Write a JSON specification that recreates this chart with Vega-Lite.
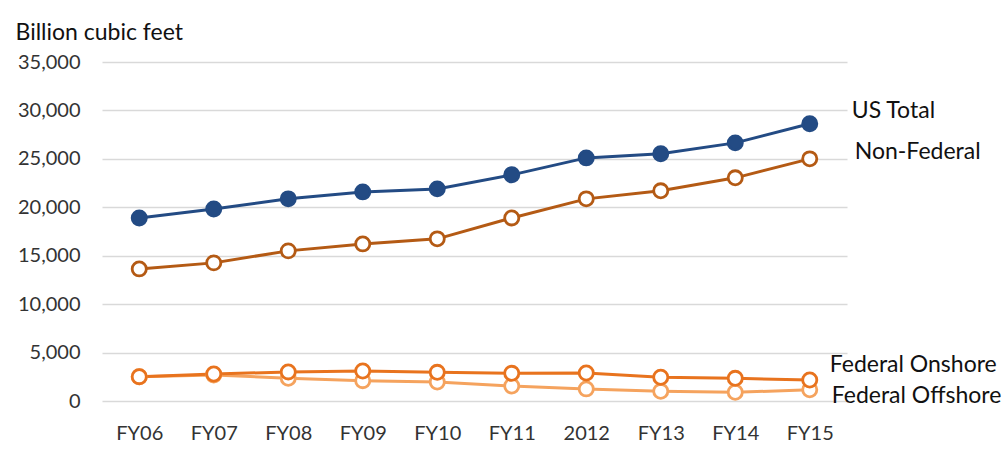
{
  "$schema": "https://vega.github.io/schema/vega-lite/v6.json",
  "width": 745,
  "height": 339,
  "autosize": "none",
  "padding": {"left": 102, "top": 62, "right": 160, "bottom": 49},
  "background": "white",
  "config": {"view": {"stroke": null}, "font": "Lato"},
  "data": {"values": [
    {"year": "FY06", "series": "Federal Offshore", "value": 2500},
    {"year": "FY07", "series": "Federal Offshore", "value": 2690},
    {"year": "FY08", "series": "Federal Offshore", "value": 2350},
    {"year": "FY09", "series": "Federal Offshore", "value": 2100},
    {"year": "FY10", "series": "Federal Offshore", "value": 1950},
    {"year": "FY11", "series": "Federal Offshore", "value": 1550},
    {"year": "2012", "series": "Federal Offshore", "value": 1250},
    {"year": "FY13", "series": "Federal Offshore", "value": 1000},
    {"year": "FY14", "series": "Federal Offshore", "value": 900},
    {"year": "FY15", "series": "Federal Offshore", "value": 1150},
    {"year": "FY06", "series": "Federal Onshore", "value": 2510},
    {"year": "FY07", "series": "Federal Onshore", "value": 2790},
    {"year": "FY08", "series": "Federal Onshore", "value": 3000},
    {"year": "FY09", "series": "Federal Onshore", "value": 3100},
    {"year": "FY10", "series": "Federal Onshore", "value": 2960},
    {"year": "FY11", "series": "Federal Onshore", "value": 2860},
    {"year": "2012", "series": "Federal Onshore", "value": 2890},
    {"year": "FY13", "series": "Federal Onshore", "value": 2450},
    {"year": "FY14", "series": "Federal Onshore", "value": 2340},
    {"year": "FY15", "series": "Federal Onshore", "value": 2170},
    {"year": "FY06", "series": "Non-Federal", "value": 13640},
    {"year": "FY07", "series": "Non-Federal", "value": 14260},
    {"year": "FY08", "series": "Non-Federal", "value": 15500},
    {"year": "FY09", "series": "Non-Federal", "value": 16220},
    {"year": "FY10", "series": "Non-Federal", "value": 16740},
    {"year": "FY11", "series": "Non-Federal", "value": 18900},
    {"year": "2012", "series": "Non-Federal", "value": 20870},
    {"year": "FY13", "series": "Non-Federal", "value": 21700},
    {"year": "FY14", "series": "Non-Federal", "value": 23040},
    {"year": "FY15", "series": "Non-Federal", "value": 25000},
    {"year": "FY06", "series": "US Total", "value": 18900},
    {"year": "FY07", "series": "US Total", "value": 19830},
    {"year": "FY08", "series": "US Total", "value": 20870},
    {"year": "FY09", "series": "US Total", "value": 21590},
    {"year": "FY10", "series": "US Total", "value": 21900},
    {"year": "FY11", "series": "US Total", "value": 23350},
    {"year": "2012", "series": "US Total", "value": 25100},
    {"year": "FY13", "series": "US Total", "value": 25520},
    {"year": "FY14", "series": "US Total", "value": 26650},
    {"year": "FY15", "series": "US Total", "value": 28620}
  ]},
  "encoding": {
    "x": {
      "field": "year", "type": "nominal", "sort": null,
      "scale": {"type": "point", "padding": 0.5},
      "axis": {"title": null, "labelAngle": 0, "ticks": false, "domain": false, "labelFont": "Lato", "labelFontSize": 20, "labelColor": "#333333", "labelPadding": 22, "grid": false}
    },
    "y": {
      "field": "value", "type": "quantitative",
      "scale": {"domain": [0, 35000], "nice": false},
      "axis": {
        "values": [0, 5000, 10000, 15000, 20000, 25000, 30000, 35000],
        "format": ",d", "ticks": false, "domain": false,
        "gridColor": "#d9d9d9", "gridWidth": 1.5,
        "labelFont": "Lato", "labelFontSize": 20, "labelColor": "#333333", "labelPadding": 22,
        "title": "Billion cubic feet", "titleAngle": 0, "titleAlign": "left", "titleBaseline": "alphabetic",
        "titleX": -87, "titleY": -23, "titleFont": "Lato", "titleFontSize": 23, "titleFontWeight": "normal", "titleColor": "#111111"
      }
    }
  },
  "layer": [
    {
      "mark": {"type": "line", "strokeWidth": 3},
      "encoding": {
        "stroke": {"field": "series", "type": "nominal", "legend": null, "sort": ["Federal Offshore", "Federal Onshore", "Non-Federal", "US Total"],
          "scale": {"domain": ["Federal Offshore", "Federal Onshore", "Non-Federal", "US Total"], "range": ["#F5A35E", "#E8731E", "#B45A14", "#234B84"]}}
      }
    },
    {
      "mark": {"type": "point", "filled": true, "size": 200, "strokeWidth": 2.8, "shape": "circle", "opacity": 1},
      "encoding": {
        "stroke": {"field": "series", "type": "nominal", "legend": null,
          "scale": {"domain": ["Federal Offshore", "Federal Onshore", "Non-Federal", "US Total"], "range": ["#F5A35E", "#E8731E", "#B45A14", "#234B84"]}},
        "fill": {"field": "series", "type": "nominal", "legend": null,
          "scale": {"domain": ["Federal Offshore", "Federal Onshore", "Non-Federal", "US Total"], "range": ["#ffffff", "#ffffff", "#ffffff", "#234B84"]}}
      }
    },
    {
      "transform": [{"filter": "datum.year === 'FY15' && datum.series === 'US Total'"}],
      "mark": {"type": "text", "align": "left", "baseline": "middle", "dx": 42, "dy": -13, "fontSize": 23, "font": "Lato", "color": "#111111"},
      "encoding": {"text": {"field": "series"}}
    },
    {
      "transform": [{"filter": "datum.year === 'FY15' && datum.series === 'Non-Federal'"}],
      "mark": {"type": "text", "align": "left", "baseline": "middle", "dx": 45, "dy": -7, "fontSize": 23, "font": "Lato", "color": "#111111"},
      "encoding": {"text": {"field": "series"}}
    },
    {
      "transform": [{"filter": "datum.year === 'FY15' && datum.series === 'Federal Onshore'"}],
      "mark": {"type": "text", "align": "left", "baseline": "middle", "dx": 20, "dy": -15, "fontSize": 23, "font": "Lato", "color": "#111111"},
      "encoding": {"text": {"field": "series"}}
    },
    {
      "transform": [{"filter": "datum.year === 'FY15' && datum.series === 'Federal Offshore'"}],
      "mark": {"type": "text", "align": "left", "baseline": "middle", "dx": 22, "dy": 6, "fontSize": 23, "font": "Lato", "color": "#111111"},
      "encoding": {"text": {"field": "series"}}
    }
  ]
}
